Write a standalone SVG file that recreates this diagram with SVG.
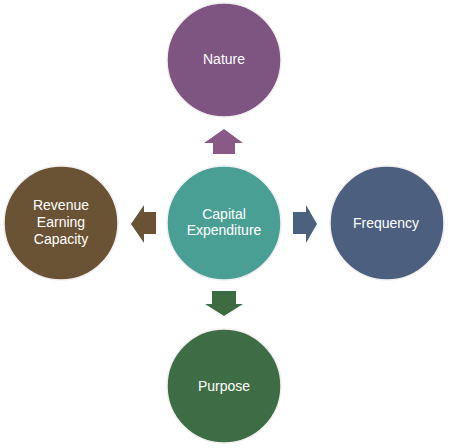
<svg xmlns="http://www.w3.org/2000/svg" width="450" height="448" viewBox="0 0 450 448">
<style>
.c{stroke:#f2eef0;stroke-width:1.5}
.t{font-family:"Liberation Sans",Arial,sans-serif;font-size:14px;fill:#ffffff;text-anchor:middle}
</style>
<rect width="450" height="448" fill="#ffffff"/>
<g id="connectors">
<polygon points="224,129 243,143 235,143 235,154 213,154 213,143 204,143" fill="#895a88"/>
<polygon points="224,316 243,304 236,304 236,291 212,291 212,304 205,304" fill="#3e6c42"/>
<polygon points="131,224 144,205 144,212 156,212 156,234 144,234 144,243" fill="#6a5334"/>
<polygon points="317,224 306,205 306,212 293,212 293,234 306,234 306,243" fill="#4c6080"/>
</g>
<g id="center">
<circle class="c" cx="224" cy="223" r="57" fill="#4a9f95"/>
<text class="t" x="224" y="219">Capital</text>
<text class="t" x="224" y="235">Expenditure</text>
</g>
<g id="nature">
<circle class="c" cx="224" cy="60" r="57" fill="#7e5580"/>
<text class="t" x="224" y="64">Nature</text>
</g>
<g id="frequency">
<circle class="c" cx="387" cy="223" r="57" fill="#4c5f7f"/>
<text class="t" x="386" y="228">Frequency</text>
</g>
<g id="purpose">
<circle class="c" cx="224" cy="386" r="57" fill="#3e6d45"/>
<text class="t" x="224" y="391">Purpose</text>
</g>
<g id="revenue">
<circle class="c" cx="61" cy="223" r="57" fill="#6a5334"/>
<text class="t" x="61" y="210">Revenue</text>
<text class="t" x="61" y="227">Earning</text>
<text class="t" x="61" y="244">Capacity</text>
</g>
</svg>
